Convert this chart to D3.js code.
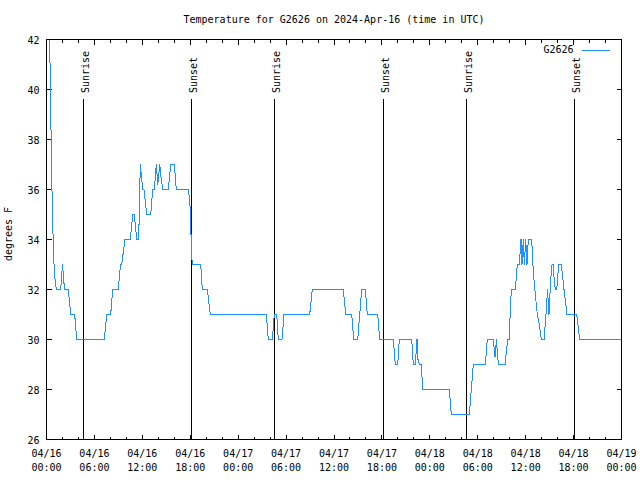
<!DOCTYPE html>
<html>
<head>
<meta charset="utf-8">
<script src="https://cdn.jsdelivr.net/npm/d3@7/dist/d3.min.js"></script>
<style>
  html, body { margin: 0; padding: 0; background: #fff; }
  svg text { font-family: "DejaVu Sans Mono", monospace; font-size: 10px; fill: #000; }
</style>
</head>
<body>
<svg id="chart" width="640" height="480"></svg>
<script>
// ---- data ----
const seriesName = "G2626";
const titleText = "Temperature for G2626 on 2024-Apr-16 (time in UTC)";
const yLabel = "degrees F";
// hours since 2024-04-16 00:00 UTC
const hours = [0.125,0.476,0.601,0.726,0.852,0.977,1.102,1.227,1.778,2.004,2.254,2.730,3.030,3.531,3.782,7.238,7.538,8.039,8.290,8.991,9.266,9.417,9.830,10.493,10.794,10.994,11.295,11.545,11.746,12.046,12.209,12.547,13.048,13.298,13.499,13.749,13.937,14.187,14.338,14.551,15.252,15.552,16.003,16.254,17.756,17.881,18.007,18.157,18.257,19.309,19.509,20.135,20.511,27.523,27.774,28.275,28.525,28.826,29.026,29.489,29.740,32.958,33.284,37.165,37.466,38.217,38.468,38.969,39.469,39.920,40.171,41.473,41.723,43.426,43.677,43.977,44.178,45.731,45.931,46.181,46.394,46.519,46.682,46.895,47.020,47.145,50.438,50.689,52.943,53.444,54.946,55.197,55.948,56.161,56.349,56.474,56.662,57.413,57.751,57.914,58.202,58.703,58.954,59.204,59.417,59.542,59.705,59.830,60.006,60.168,60.331,60.757,60.957,61.208,61.458,61.709,61.959,62.297,62.547,62.735,62.923,63.110,63.299,63.462,63.587,63.712,63.888,64.138,64.463,64.801,65.177,66.392,66.768,72.0];
const temps = [46,40.5,37.5,35.3,33.8,32.7,32.3,32,32,33,32,32,31,31,30,30,31,31,32,32,33,33,34,34,35,35,34,34,37,36,36,35,35,36,36,37,36.2,37,36.5,36,36,37,37,36,36,35.7,35.2,33.5,33,33,32,32,31,31,30,30,31,31,30,30,31,31,32,32,31,31,30,30,32,32,31,31,30,30,29,29,30,30,29,29,30,29.2,29,29,28.5,28,28,27,27,29,29,30,30,29.3,30,29.3,29,29,30,30,32,32,33,33,34,33,34,33,34,33,34,34,32.7,31.8,31,30.6,30,30,31,32,31,32.3,33,33,32.3,32,32,33,33,32,31,31,30,30];
const sunTimes = ["2024-04-16T04:38:00Z","2024-04-16T18:09:00Z","2024-04-17T04:33:00Z","2024-04-17T18:12:00Z","2024-04-18T04:35:00Z","2024-04-18T18:07:00Z"];
const sunLabels = ["Sunrise","Sunset","Sunrise","Sunset","Sunrise","Sunset"];
const yTicks = [26,28,30,32,34,36,38,40,42];
const xStart = "2024-04-16T00:00:00Z";
const xEnd = "2024-04-19T00:00:00Z";

// ---- chart ----
const svg = d3.select("#chart");
const L = 46.5, R = 621.5, T = 39.5, B = 439.5;
const t0 = new Date(xStart);
const x = d3.scaleUtc().domain([t0, new Date(xEnd)]).range([L, R]);
const y = d3.scaleLinear().domain([26, 42]).range([B, T]);
const data = hours.map((h, i) => ({ d: new Date(t0.getTime() + h * 3600e3), v: temps[i] }));

svg.append("rect").attr("width", 640).attr("height", 480).attr("fill", "#fff");

// title
svg.append("text").attr("x", 334).attr("y", 22.5).attr("text-anchor", "middle").text(titleText);

// y label
svg.append("text").attr("transform", "translate(11.5,234) rotate(-90)")
  .attr("text-anchor", "middle").text(yLabel);

// ticks (inward, mirrored)
const majorX = d3.utcHour.every(6).range(x.domain()[0], new Date(x.domain()[1].getTime() + 1));
const minorX = d3.utcHour.every(2).range(x.domain()[0], new Date(x.domain()[1].getTime() + 1));
const ax = svg.append("g").attr("stroke", "#000").attr("stroke-width", 1).attr("shape-rendering", "crispEdges");
minorX.forEach(d => {
  const major = d.getUTCHours() % 6 === 0;
  const len = major ? 5 : 3;
  const px = Math.round(x(d) - 0.5) + 0.5;
  ax.append("line").attr("x1", px).attr("x2", px).attr("y1", B).attr("y2", B - len);
  ax.append("line").attr("x1", px).attr("x2", px).attr("y1", T).attr("y2", T + len);
});
yTicks.forEach(v => {
  const py = y(v);
  ax.append("line").attr("x1", L).attr("x2", L + 5).attr("y1", py).attr("y2", py);
  ax.append("line").attr("x1", R).attr("x2", R - 5).attr("y1", py).attr("y2", py);
});

// y tick labels
svg.append("g").selectAll("text").data(yTicks).join("text")
  .attr("x", 39.5).attr("y", d => y(d) + 4.5).attr("text-anchor", "end").text(d => d);

// x tick labels (two lines)
const fDate = d3.utcFormat("%m/%d"), fTime = d3.utcFormat("%H:%M");
const xl = svg.append("g").selectAll("g").data(majorX).join("g");
xl.append("text").attr("x", d => x(d)).attr("y", 457).attr("text-anchor", "middle").text(d => fDate(d));
xl.append("text").attr("x", d => x(d)).attr("y", 471).attr("text-anchor", "middle").text(d => fTime(d));

// sun lines
const sun = svg.append("g");
sunTimes.forEach((s, i) => {
  const px = Math.round(x(new Date(s)) - 0.5) + 0.5;
  sun.append("line").attr("x1", px).attr("x2", px).attr("y1", 99).attr("y2", B)
    .attr("stroke", "#000").attr("stroke-width", 1).attr("shape-rendering", "crispEdges");
  sun.append("text").attr("transform", `translate(${px + 5},93) rotate(-90)`)
    .attr("text-anchor", "start").text(sunLabels[i]);
});

// clip
svg.append("clipPath").attr("id", "clip").append("rect")
  .attr("x", L).attr("y", T).attr("width", R - L).attr("height", B - T);

// data line
const line = d3.line().x(d => x(d.d)).y(d => y(d.v));
svg.append("path").datum(data).attr("clip-path", "url(#clip)")
  .attr("d", line).attr("fill", "none").attr("stroke", "#1e90ff")
  .attr("stroke-width", 1).attr("shape-rendering", "crispEdges");

// legend
svg.append("text").attr("x", 573.5).attr("y", 53).attr("text-anchor", "end").text(seriesName);
svg.append("line").attr("x1", 582).attr("x2", 610).attr("y1", 50.5).attr("y2", 50.5)
  .attr("stroke", "#1e90ff").attr("stroke-width", 1).attr("shape-rendering", "crispEdges");

// border
svg.append("rect").attr("x", L).attr("y", T).attr("width", R - L).attr("height", B - T)
  .attr("fill", "none").attr("stroke", "#000").attr("stroke-width", 1).attr("shape-rendering", "crispEdges");
</script>
</body>
</html>
